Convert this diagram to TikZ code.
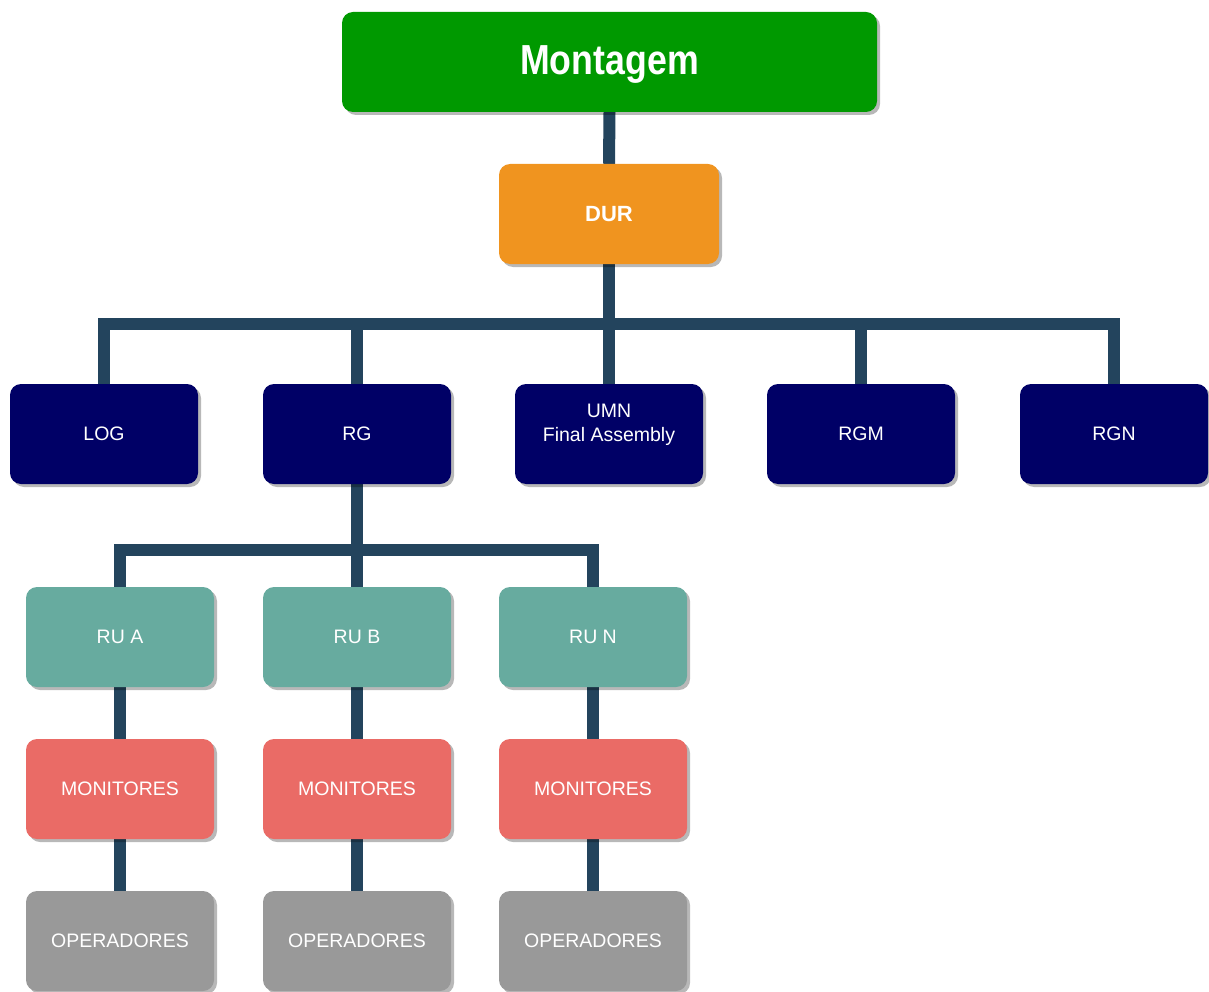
\documentclass[tikz,border=0pt]{standalone}
\usepackage{fontspec}
\setmainfont{Liberation Sans}
\usetikzlibrary{shadows,backgrounds}
\definecolor{cgreen}{HTML}{009900}
\definecolor{corange}{HTML}{F0941F}
\definecolor{cnavy}{HTML}{000066}
\definecolor{cteal}{HTML}{67AB9F}
\definecolor{csalmon}{HTML}{EA6B66}
\definecolor{cgray}{HTML}{999999}
\definecolor{cline}{HTML}{23445D}
\tikzset{
  box/.style={rectangle, rounded corners=11pt, minimum width=188pt, minimum height=100pt,
    text=white, inner sep=0pt, align=center,
    font=\fontsize{19.5}{23}\selectfont,
    drop shadow={shadow xshift=3pt, shadow yshift=-3pt, fill=black, opacity=0.28}},
  topbox/.style={box, fill=cgreen, minimum width=535pt, text height=30pt, text depth=4pt,
    font=\fontsize{42}{46}\selectfont\bfseries},
  durbox/.style={box, fill=corange, minimum width=220pt, font=\fontsize{22}{26}\selectfont\bfseries},
  unitbox/.style={box, fill=cnavy},
  rubox/.style={box, fill=cteal},
  monbox/.style={box, fill=csalmon},
  opbox/.style={box, fill=cgray},
  link/.style={draw=cline, line width=12pt}
}
\begin{document}
\begin{tikzpicture}[x=1pt, y=-1pt]
\useasboundingbox (0,0) rectangle (1209,992);

\node[topbox] (mont) at (609.5,62) {\scalebox{0.85}[1]{Montagem}};
\node[durbox] (dur) at (609,214) {DUR};

\node[unitbox] (log) at (104,434) {LOG};
\node[unitbox] (rg)  at (357,434) {RG};
\node[unitbox, text height=0pt, text depth=34pt] (umn) at (609,434)
  {\begin{tabular}[t]{@{}c@{}}UMN\\[1pt]Final Assembly\end{tabular}};
\node[unitbox] (rgm) at (861,434) {RGM};
\node[unitbox] (rgn) at (1114,434) {RGN};

\node[rubox] (rua) at (120,637) {RU A};
\node[rubox] (rub) at (357,637) {RU B};
\node[rubox] (run) at (593,637) {RU N};

\node[monbox] (mona) at (120,789) {MONITORES};
\node[monbox] (monb) at (357,789) {MONITORES};
\node[monbox] (monn) at (593,789) {MONITORES};

\node[opbox] (opa) at (120,941) {OPERADORES};
\node[opbox] (opb) at (357,941) {OPERADORES};
\node[opbox] (opn) at (593,941) {OPERADORES};

\begin{scope}[on background layer]
  \draw[link] (mont.south) -- (dur.north);
  \draw[link] (dur.south) -- ++(0,60) -| (log.north);
  \draw[link] (dur.south) -- ++(0,60) -| (rg.north);
  \draw[link] (dur.south) -- (umn.north);
  \draw[link] (dur.south) -- ++(0,60) -| (rgm.north);
  \draw[link] (dur.south) -- ++(0,60) -| (rgn.north);
  \draw[link] (rg.south) -- ++(0,66) -| (rua.north);
  \draw[link] (rg.south) -- (rub.north);
  \draw[link] (rg.south) -- ++(0,66) -| (run.north);
  \draw[link] (rua.south) -- (mona.north);
  \draw[link] (rub.south) -- (monb.north);
  \draw[link] (run.south) -- (monn.north);
  \draw[link] (mona.south) -- (opa.north);
  \draw[link] (monb.south) -- (opb.north);
  \draw[link] (monn.south) -- (opn.north);
\end{scope}
\end{tikzpicture}
\end{document}
